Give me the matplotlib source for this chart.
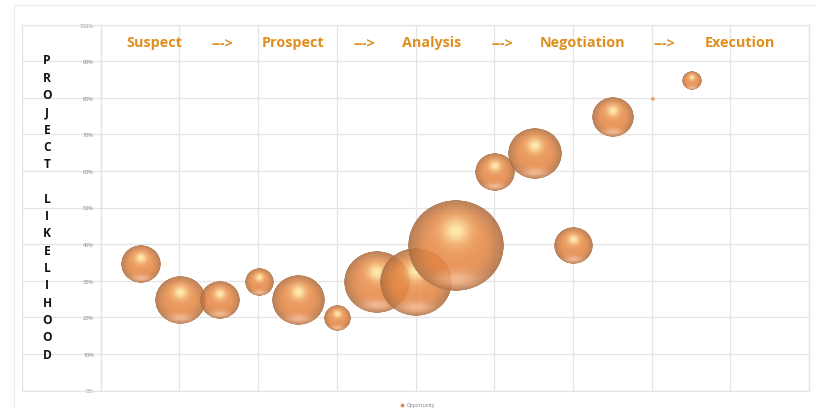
import numpy as np
import matplotlib
matplotlib.use('Agg')
import matplotlib.pyplot as plt
from matplotlib.offsetbox import OffsetImage, AnnotationBbox
from matplotlib.patches import Rectangle

position = [0.5, 1, 1.5, 2, 2.5, 3, 3.5, 4, 4.5, 5, 5.5, 6, 6.5, 7, 7.5]
likelihood = [35, 25, 25, 30, 25, 20, 30, 30, 40, 60, 65, 40, 75, 80, 85]
radius_px = [20, 25.5, 20, 14.5, 26.5, 13.5, 33, 36, 48, 20, 27, 19.5, 21, 2, 10]

stages = ['Suspect', '--->', 'Prospect', '--->', 'Analysis', '--->', 'Negotiation', '--->', 'Execution']
stage_px = [154, 222, 293, 364, 432, 502, 583, 665, 740]
y_title = 'PROJECT LIKELIHOOD'
y_ticks = list(range(0, 101, 10))

W, H = 817, 410
ss = 3  # supersample for the sphere images


def sphere(r):
    # the reference is squashed a little, so the bubbles are slightly wide
    nx = max(int(round(2 * r * ss)), 4)
    ny = max(int(round(2 * r * 0.94 * ss)), 4)
    yy, xx = np.mgrid[0:ny, 0:nx]
    u = (xx - (nx - 1) / 2) / (nx / 2)
    v = (yy - (ny - 1) / 2) / (ny / 2)
    d = np.sqrt(u ** 2 + v ** 2)

    base = np.array([228, 134, 68]) / 255
    dark = np.array([168, 108, 66]) / 255
    hi = np.array([255, 236, 168]) / 255
    low = np.array([244, 182, 140]) / 255

    # darker towards the rim
    edge = np.clip((d - 0.55) / 0.45, 0, 1) ** 1.5
    rgb = base + (dark - base) * edge[..., None]
    # soft halo, then the highlight above the centre
    h2 = np.exp(-(u ** 2 + (v + 0.28) ** 2) / 0.2)
    rgb = rgb + (np.array([246, 170, 100]) / 255 - rgb) * (h2 * 0.8)[..., None]
    h = np.exp(-(u ** 2 + (v + 0.32) ** 2) / 0.06)
    rgb = rgb + (hi - rgb) * (h * 0.95)[..., None]
    # glow at the bottom
    g = np.exp(-(u ** 2 * 0.7 + (v - 0.74) ** 2 * 5) / 0.14)
    rgb = rgb + (low - rgb) * (g * 0.9)[..., None]

    a = np.clip((1 - d) * min(nx, ny) / 2 / 1.5, 0, 1) * 0.88
    return np.dstack([np.clip(rgb, 0, 1), a])


fig = plt.figure(figsize=(W / 100, H / 100), dpi=100)
plt.rcParams['font.family'] = ['Open Sans', 'DejaVu Sans']

# outer chart border
fig.add_artist(Rectangle((14 / W, 1 - 411 / H), 804 / W, 405 / H, transform=fig.transFigure,
                         fill=False, ec='#ebebeb', lw=0.8))

ax = fig.add_axes([22 / W, 1 - 391.5 / H, 787 / W, 366 / H])
ax.set_xlim(-1, 9)
ax.set_ylim(0, 100)
ax.set_xticks(range(-1, 10))
ax.set_yticks(y_ticks)
ax.set_yticklabels([str(t) + '%' for t in y_ticks])
ax.set_xticklabels([])
ax.tick_params(length=0, pad=5, labelsize=4, labelcolor='#808080')
ax.grid(True, color='#e4e4e4', lw=0.9)
ax.set_axisbelow(True)
for s in ax.spines.values():
    s.set_color('#e4e4e4')
    s.set_linewidth(0.9)
ax.spines['left'].set_position(('data', 0))
ax.plot([-1, -1], [0, 100], color='#e4e4e4', lw=0.9, zorder=0.5)

for i, (x, y, r) in enumerate(zip(position, likelihood, radius_px)):
    im = OffsetImage(sphere(r), zoom=1 / ss, dpi_cor=False, interpolation='antialiased')
    ab = AnnotationBbox(im, (x, y), xybox=(0.7, -1), boxcoords='offset points', frameon=False, pad=0,
                        box_alignment=(0.5, 0.5), zorder=3 + i * 0.01)
    ax.add_artist(ab)

for label, px in zip(stages, stage_px):
    fig.text(px / W, 1 - 47 / H, label, color='#E08F1E', fontsize=10.4, fontweight='bold',
             ha='center', va='baseline')

# one letter per line, the blank keeps the gap between the two words
fig.text(47 / W, 1 - 208 / H, '\n'.join(y_title), color='#111111', fontsize=8.6, fontweight='bold',
         ha='center', va='center', linespacing=1.43)

ax.scatter([], [], s=3, color='#E08E54', label='Opportunity')
fig.legend(loc='center', bbox_to_anchor=(416 / W, 1 - 405.5 / H), frameon=False, fontsize=3.6,
           labelcolor='#7f7f7f', handletextpad=0.1, borderpad=0)

plt.savefig('out.png', dpi=100)
plt.close()
